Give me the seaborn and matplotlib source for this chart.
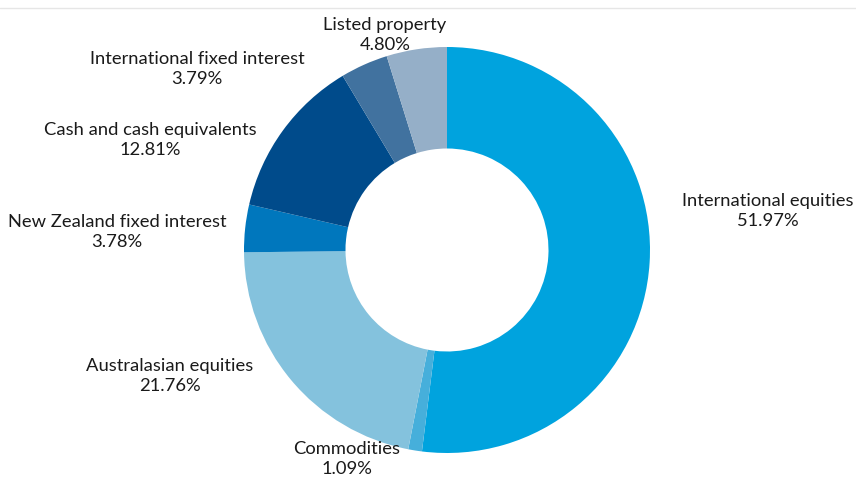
import matplotlib
matplotlib.use("Agg")
import matplotlib.pyplot as plt
import seaborn as sns
import numpy as np

categories = ["International equities", "Commodities", "Australasian equities",
              "New Zealand fixed interest", "Cash and cash equivalents",
              "International fixed interest", "Listed property"]
values = [51.97, 1.09, 21.76, 3.78, 12.81, 3.79, 4.80]
colors = ["#00A3DE", "#46AFDB", "#84C2DD", "#0077BD", "#004B8B", "#41729F", "#95AFC8"]

# label layout (pixel coords, y from top)
label_pos = [(768, 211), (347, 459), (170, 376), (117, 232), (150, 140), (197, 69), (385, 35)]

sns.set_theme(style="white")
plt.rcParams['font.family'] = ['Lato', 'DejaVu Sans']

W, H = 856, 479
fig = plt.figure(figsize=(W / 100, H / 100), dpi=100)
ax = fig.add_axes([0, 0, 1, 1])

palette = sns.color_palette(colors)
cx, cy, r = 447, H - 250, 203
ax.pie(values, colors=palette, startangle=90, counterclock=False,
       center=(cx, cy), radius=r, frame=True,
       wedgeprops=dict(width=r * 0.5, edgecolor="none", linewidth=0))
ax.set_xlim(0, W)
ax.set_ylim(0, H)
ax.set_aspect("equal")
ax.axis("off")

for name, v, (lx, ly) in zip(categories, values, label_pos):
    ax.text(lx, H - ly, f"{name}\n{v:.2f}%", ha="center", va="center",
            fontsize=13.2, color="#1a1a1a", linespacing=1.38)

ax.plot([0, W], [H - 8, H - 8], color="#e6e6e6", lw=1)

fig.savefig("out.png", dpi=100)
